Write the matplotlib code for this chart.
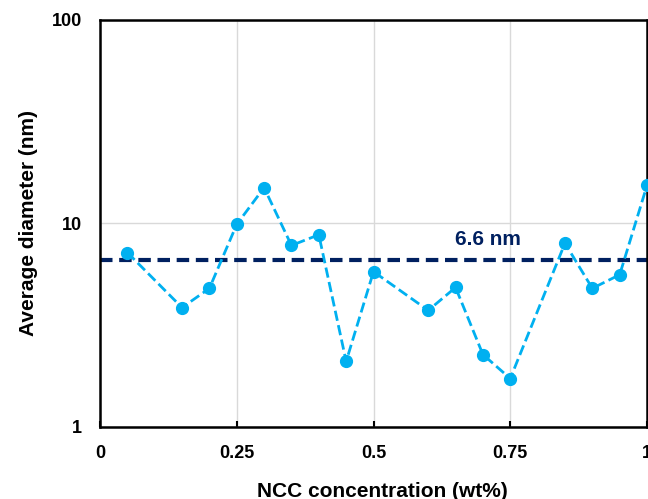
import matplotlib.pyplot as plt
from matplotlib.ticker import FixedLocator, NullLocator

plt.rcParams['font.family'] = ['Liberation Sans', 'DejaVu Sans']
plt.rcParams['font.weight'] = 'bold'

# NCC concentration (wt%) and measured average diameter (nm)
conc = [0.05, 0.15, 0.2, 0.25, 0.3, 0.35, 0.4, 0.45, 0.5,
        0.6, 0.65, 0.7, 0.75, 0.85, 0.9, 0.95, 1.0]
diam = [7.2, 3.86, 4.8, 9.9, 15.0, 7.8, 8.8, 2.1, 5.8,
        3.74, 4.85, 2.27, 1.73, 8.0, 4.8, 5.6, 15.4]
mean_diam = 6.6

xticks = [0, 0.25, 0.5, 0.75, 1]
xticklabels = ['0', '0.25', '0.5', '0.75', '1']
yticks = [1, 10, 100]
yticklabels = ['1', '10', '100']

fig = plt.figure(figsize=(6.48, 4.99), dpi=100)
ax = fig.add_axes([0.1543, 0.1443, 0.8442, 0.8157])

ax.plot(conc, diam, linestyle='--', color='#00B0F0', lw=2,
        marker='o', markersize=8.5, zorder=3)
ax.axhline(mean_diam, color='#002060', linestyle='--', lw=3,
           dashes=(3, 1.6), zorder=2)
ax.text(0.709, mean_diam * 1.265, '6.6 nm', color='#002060', fontsize=15,
        fontweight='bold', ha='center', va='center')

ax.set_yscale('log')
ax.set_xlim(0, 1)
ax.set_ylim(1, 100)
ax.xaxis.set_major_locator(FixedLocator(xticks))
ax.set_xticklabels(xticklabels)
ax.yaxis.set_major_locator(FixedLocator(yticks))
ax.yaxis.set_minor_locator(NullLocator())
ax.set_yticklabels(yticklabels)

ax.grid(True, color='#d9d9d9', lw=1, zorder=0)
ax.set_axisbelow(True)
for s in ax.spines.values():
    s.set_linewidth(1.8)
    s.set_color('black')

ax.tick_params(axis='x', direction='in', length=4, width=1.5,
               labelsize=13, pad=13)
ax.tick_params(axis='y', length=0, labelsize=13, pad=13)

ax.set_xlabel('NCC concentration (wt%)', fontsize=15, fontweight='bold',
              labelpad=13)
ax.xaxis.set_label_coords(0.517, -0.135)
ax.set_ylabel('Average diameter (nm)', fontsize=15, fontweight='bold',
              labelpad=10)

plt.savefig('out.png', dpi=100)
